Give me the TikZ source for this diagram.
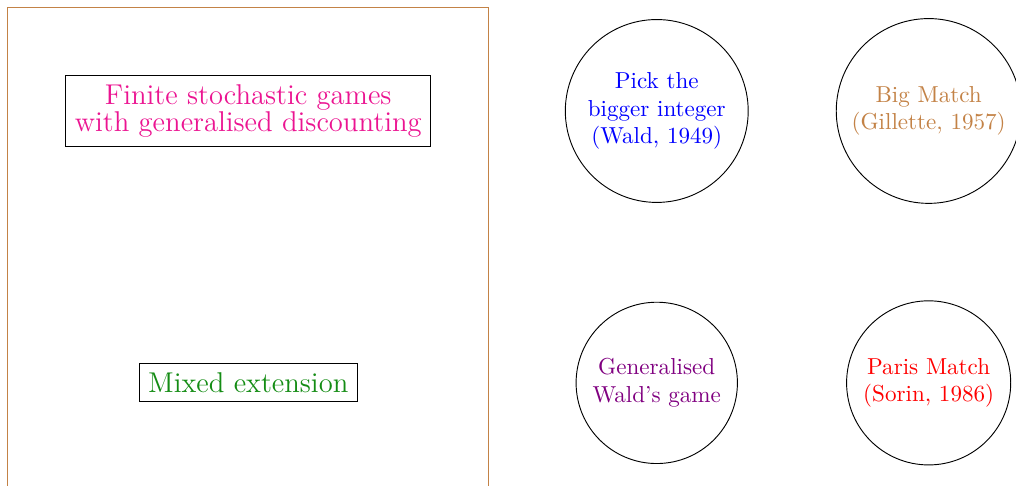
\documentclass[tikz,border=0pt]{standalone}
\usetikzlibrary{positioning}
\definecolor{gamepink}{RGB}{235,20,145}
\definecolor{gamegreen}{RGB}{20,140,20}
\definecolor{gamebrown}{RGB}{195,130,70}
\definecolor{gamepurple}{RGB}{128,0,128}
\tikzset{
  framebox/.style={draw,font=\fontsize{12.4}{11.6}\selectfont,align=center,inner sep=3.9pt},
  gamecircle/.style={draw,circle,align=center,inner sep=4pt}
}
\begin{document}
\begin{tikzpicture}
\useasboundingbox (0,0) rectangle (15.47,7.40);
\draw[gamebrown] (0.12,-0.3) rectangle (7.44,7.29);

\node[framebox,text=gamepink] (fsg) at (3.78,5.71) {Finite stochastic games\\with generalised discounting};
\node[framebox,text=gamegreen] (mix) at (3.78,1.57) {Mixed extension};

\node[gamecircle,text=blue] (wald) at (10.0,5.71) {Pick the\\bigger integer\\(Wald, 1949)};
\node[gamecircle,text=gamebrown] (big) at (14.14,5.71) {Big Match\\(Gillette, 1957)};
\node[gamecircle,text=gamepurple] (gwald) at (10.0,1.57) {Generalised\\Wald's game};
\node[gamecircle,text=red] (paris) at (14.14,1.57) {Paris Match\\(Sorin, 1986)};
\end{tikzpicture}
\end{document}
